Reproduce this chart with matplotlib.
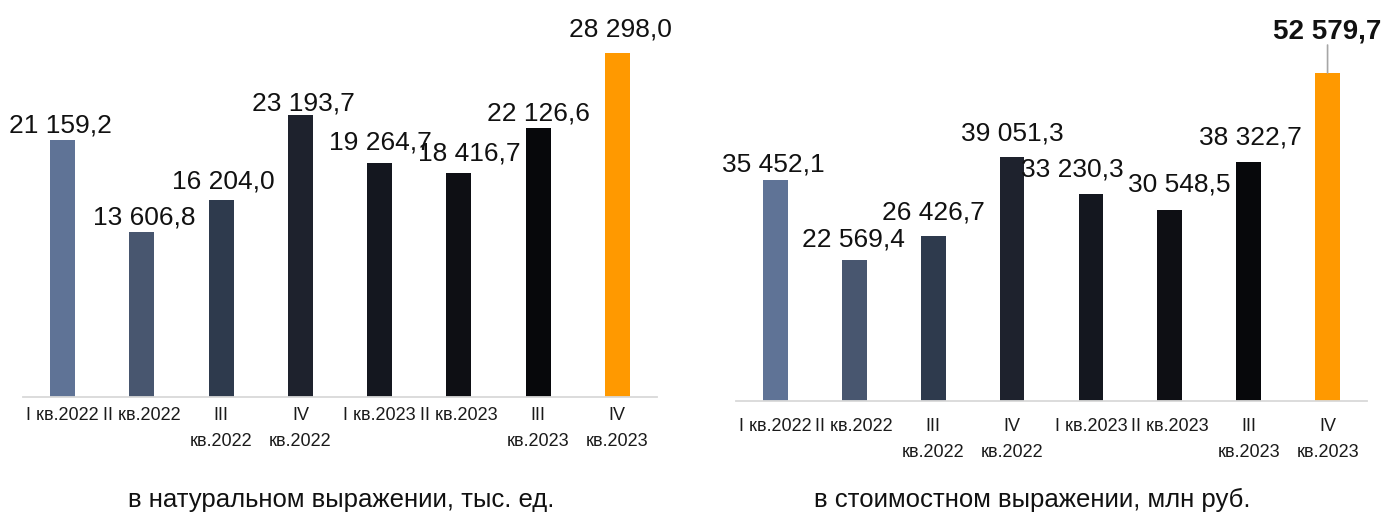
import matplotlib
matplotlib.use('Agg')
import matplotlib.pyplot as plt

plt.rcParams['font.family'] = ['Liberation Sans', 'DejaVu Sans']

quarters = ['I кв.2022', 'II кв.2022', 'III\nкв.2022', 'IV\nкв.2022',
            'I кв.2023', 'II кв.2023', 'III\nкв.2023', 'IV\nкв.2023']
units = [21159.2, 13606.8, 16204.0, 23193.7, 19264.7, 18416.7, 22126.6, 28298.0]
money = [35452.1, 22569.4, 26426.7, 39051.3, 33230.3, 30548.5, 38322.7, 52579.7]
bar_colors = ['#5f7396', '#48566f', '#2e3a4d', '#1e222d',
              '#14171f', '#0e0f14', '#07080b', '#ff9900']
title_units = 'в натуральном выражении, тыс. ед.'
title_money = 'в стоимостном выражении, млн руб.'

# label offsets in pixels (dx, gap above bar)
off_units = [(-2, 7), (2, 7), (2, 12), (3, 5), (1, 13), (10, 13), (0, 8), (3, 17)]
off_money = [(-2, 8), (-1, 14), (0, 17), (0, 17), (-19, 17), (9, 19), (2, 17), (0, 35)]


def fmt(v):
    s = f'{v:,.1f}'
    return s.replace(',', ' ').replace('.', ',')


def draw(ax, vals, offs, ymax, pad, bold_last=False):
    x = range(len(vals))
    ax.bar(x, vals, width=0.315, color=bar_colors)
    ax.set_xlim(-0.5, len(vals) - 0.5)
    ax.set_ylim(0, ymax)
    ax.set_yticks([])
    ax.set_xticks(list(x))
    ax.set_xticklabels(quarters, fontsize=13, linespacing=1.75, color='#1a1a1a')
    ax.tick_params(axis='x', length=0, pad=pad)
    for s in ['top', 'right', 'left']:
        ax.spines[s].set_visible(False)
    ax.spines['bottom'].set_color('#d9d9d9')
    ax.spines['bottom'].set_linewidth(1.3)
    for i, v in enumerate(vals):
        dx, dy = offs[i]
        last = bold_last and i == len(vals) - 1
        ax.annotate(fmt(v), (i, v), xytext=(dx * 0.72, dy * 0.72),
                    textcoords='offset points', ha='center', va='baseline',
                    fontsize=20 if last else 19,
                    fontweight='bold' if last else 'normal', color='#111111')
        if last:
            ax.annotate('', (i, v), xytext=(0, (dy - 7) * 0.72),
                        textcoords='offset points',
                        arrowprops=dict(arrowstyle='-', color='#a6a6a6', lw=1.2,
                                        shrinkA=0, shrinkB=0))


fig = plt.figure(figsize=(13.84, 5.15), dpi=100)
ax1 = fig.add_axes([23 / 1384, 118 / 515, 634 / 1384, 397 / 515])
ax2 = fig.add_axes([736 / 1384, 114 / 515, 631 / 1384, 401 / 515])

draw(ax1, units, off_units, 32660, 7)
draw(ax2, money, off_money, 64283, 12, bold_last=True)

fig.text(341 / 1384, 15 / 515, title_units, ha='center', va='center', fontsize=18.5, color='#111111')
fig.text(1032 / 1384, 15 / 515, title_money, ha='center', va='center', fontsize=18.5, color='#111111')

fig.savefig('out.png', dpi=100)
